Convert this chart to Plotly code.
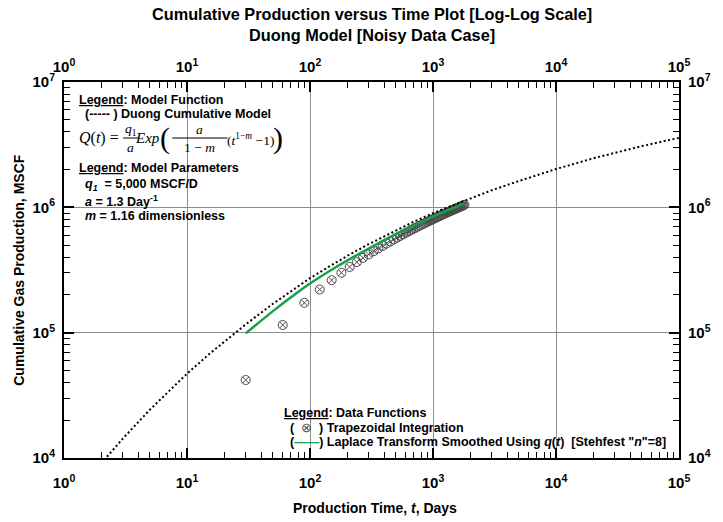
import plotly.graph_objects as go

# ---------------- data ----------------
model_t = [2, 3, 5, 7, 10, 15, 20, 30, 50, 70, 100, 150, 200, 300, 500, 700,
           1000, 2000, 3000, 5000, 10000, 20000, 50000, 100000]
model_q = [9030, 14240, 24340, 33800, 47040, 66960, 84800, 116400, 170000, 215000,
           272000, 346000, 409000, 508000, 657000, 769000, 900000, 1175000,
           1368000, 1623000, 2021000, 2457000, 3083000, 3582000]

data_t = [30, 60, 90, 120, 150, 180, 210, 240, 270, 300, 330, 360, 390, 420, 450,
          480, 510, 540, 570, 600, 630, 660, 690, 720, 750, 780, 810, 840, 870, 900,
          930, 960, 990, 1020, 1050, 1080, 1110, 1140, 1170, 1200, 1230, 1260, 1290,
          1320, 1350, 1380, 1410, 1440, 1470, 1500, 1530, 1560, 1590, 1620, 1650,
          1680, 1710, 1740, 1770, 1800]
data_q = [41900, 115100, 173000, 221000, 262500, 300600, 334500, 365900, 395100,
          421700, 446700, 470900, 492900, 514600, 534800, 554300, 572900, 591300,
          608200, 625400, 641000, 657000, 671800, 686300, 700900, 714100, 727600,
          740500, 753700, 766200, 778300, 790200, 801400, 812800, 823900, 834800,
          845800, 856000, 866400, 876700, 887100, 895900, 905600, 915600, 924400,
          933300, 942400, 950600, 959800, 968200, 975600, 984000, 992400, 1001000,
          1008600, 1016300, 1024000, 1031700, 1039400, 1046300]

smooth_t = [30, 50, 70, 100, 150, 200, 300, 500, 700, 1000, 1400, 1800]
smooth_q = [98700, 148500, 191400, 246500, 317500, 375600, 469500, 610800, 716500,
            841900, 971600, 1075600]

x_major = [1, 10, 100, 1000, 10000, 100000]
x_labels = ["10<sup>0</sup>", "10<sup>1</sup>", "10<sup>2</sup>", "10<sup>3</sup>",
            "10<sup>4</sup>", "10<sup>5</sup>"]
y_major = [1e4, 1e5, 1e6, 1e7]
y_labels = ["10<sup>4</sup>", "10<sup>5</sup>", "10<sup>6</sup>", "10<sup>7</sup>"]

# ---------------- layout helpers ----------------
W, H = 723, 522
L, R, T, B = 64, 689, 82, 458
FONT = "Arial, Liberation Sans, sans-serif"
SERIF = "Times New Roman, Liberation Serif, serif"
GREEN = "#17a04c"


def P(x, y):
    return (x - L) / (R - L), (B - y) / (B - T)


x_minor = [m * 10 ** d for d in range(0, 5) for m in range(2, 10)]
y_minor = [m * 10 ** d for d in range(4, 7) for m in range(2, 10)]

fig = go.Figure()

fig.add_trace(go.Scatter(
    x=data_t, y=data_q, mode="markers",
    marker=dict(symbol="circle-x-open", size=9, color="#4a4a4a", line=dict(width=1)),
    showlegend=False, hoverinfo="skip"))
fig.add_trace(go.Scatter(
    x=smooth_t, y=smooth_q, mode="lines", line_shape="spline",
    line=dict(color=GREEN, width=2.5), showlegend=False, hoverinfo="skip"))
fig.add_trace(go.Scatter(
    x=model_t, y=model_q, mode="lines",
    line=dict(color="black", width=2, dash="2px,2.5px"), showlegend=False,
    hoverinfo="skip"))
# invisible trace to activate top/right axes
fig.add_trace(go.Scatter(x=[10], y=[1e5], xaxis="x2", yaxis="y2", mode="markers",
                         marker=dict(opacity=0), showlegend=False, hoverinfo="skip"))

tickfont = dict(family=FONT, size=15, color="black")
common = dict(type="log", ticks="inside", ticklen=10, tickwidth=1.5, tickcolor="black",
              showline=True, linecolor="black", linewidth=2, tickfont=tickfont,
              zeroline=False)


def minor(vals):
    return dict(tickvals=vals, ticks="inside", ticklen=6, tickwidth=1.2,
                tickcolor="black", showgrid=False)


fig.update_layout(
    width=W, height=H,
    margin=dict(l=L, r=W - R, t=T, b=H - B),
    paper_bgcolor="white", plot_bgcolor="white",
    xaxis=dict(range=[0, 5], tickvals=x_major, ticktext=["<b>%s</b>" % t for t in x_labels],
               showgrid=True, gridcolor="#8c8c8c", gridwidth=1, ticklabelstandoff=10,
               minor=minor(x_minor), **common),
    yaxis=dict(range=[4, 7], tickvals=y_major, ticktext=["<b>%s</b>" % t for t in y_labels],
               showgrid=True, gridcolor="#8c8c8c", gridwidth=1, ticklabelstandoff=4,
               minor=minor(y_minor), **common),
    xaxis2=dict(range=[0, 5], overlaying="x", side="top", anchor="y",
                tickvals=x_major, ticktext=["<b>%s</b>" % t for t in x_labels],
                showgrid=False, ticklabelstandoff=2, minor=minor(x_minor), **common),
    yaxis2=dict(range=[4, 7], overlaying="y", side="right", anchor="x",
                tickvals=y_major, ticktext=["<b>%s</b>" % t for t in y_labels],
                showgrid=False, ticklabelstandoff=4, minor=minor(y_minor), **common),
)

ann = []


def text(x, y, s, size=12.5, family=FONT, xanchor="left", color="black", angle=0):
    px, py = P(x, y)
    ann.append(dict(x=px, y=py, xref="paper", yref="paper", text=s, showarrow=False,
                    xanchor=xanchor, yanchor="middle", textangle=angle, borderpad=0,
                    font=dict(family=family, size=size, color=color)))


# title
text(377, 25, "<b>Cumulative Production versus Time Plot [Log-Log Scale]<br>"
              "Duong Model [Noisy Data Case]</b>", size=16.3, xanchor="center")

# axis titles
text(380, 508, "<b>Production Time, <i>t</i>, Days</b>", size=14, xanchor="center")
text(18, 270, "<b>Cumulative Gas Production, MSCF</b>", size=14, xanchor="center", angle=-90)

# top-left legend
text(78, 100, "<b><u>Legend</u>: Model Function</b>")
text(84, 114, "<b>(----- ) Duong Cumulative Model</b>")
text(78, 168, "<b><u>Legend</u>: Model Parameters</b>")
text(84, 185, "<b><i>q<sub>1</sub></i>  = 5,000 MSCF/D</b>")
text(84, 201, "<b><i>a</i> = 1.3 Day<sup>-1</sup></b>")
text(84, 216, "<b><i>m</i> = 1.16 dimensionless</b>")

# formula
text(121, 138, "<i>Q</i>(<i>t</i>) =", size=16, family=SERIF, xanchor="right")
text(132, 129, "<i>q</i><sub>1</sub>", size=13.5, family=SERIF, xanchor="center")
text(132, 147, "<i>a</i>", size=13.5, family=SERIF, xanchor="center")
text(163, 138, "<i>Exp</i>", size=15, family=SERIF, xanchor="right")
text(167, 138, "(", size=30, family=SERIF, xanchor="center")
text(202, 129, "<i>a</i>", size=13.5, family=SERIF, xanchor="center")
text(202, 147, "1 − <i>m</i>", size=13.5, family=SERIF, xanchor="center")
text(229, 139, "(<i>t</i><sup>1−<i>m</i></sup> −1)", size=13.5, family=SERIF)
text(281, 138, ")", size=30, family=SERIF, xanchor="center")

# bottom legend
text(287, 413, "<b><u>Legend</u>: Data Functions</b>")
text(293, 428, "<b>(  </b><span style='color:#4a4a4a'>⊗</span><b>  ) Trapezoidal Integration</b>")
text(293, 442, "<b>(<span style='color:%s'>——</span>) Laplace Transform Smoothed Using "
               "<i>q</i>(<i>t</i>)  [Stehfest \"<i>n</i>\"=8]</b>" % GREEN)

fig.update_layout(annotations=ann)

# fraction bars
shapes = []
for x0, x1 in [(124, 140), (174, 230)]:
    a0, yy = P(x0, 138)
    a1, _ = P(x1, 138)
    shapes.append(dict(type="line", xref="paper", yref="paper", x0=a0, x1=a1, y0=yy, y1=yy,
                       line=dict(color="black", width=1)))
fig.update_layout(shapes=shapes)

fig.write_html("out.html")
